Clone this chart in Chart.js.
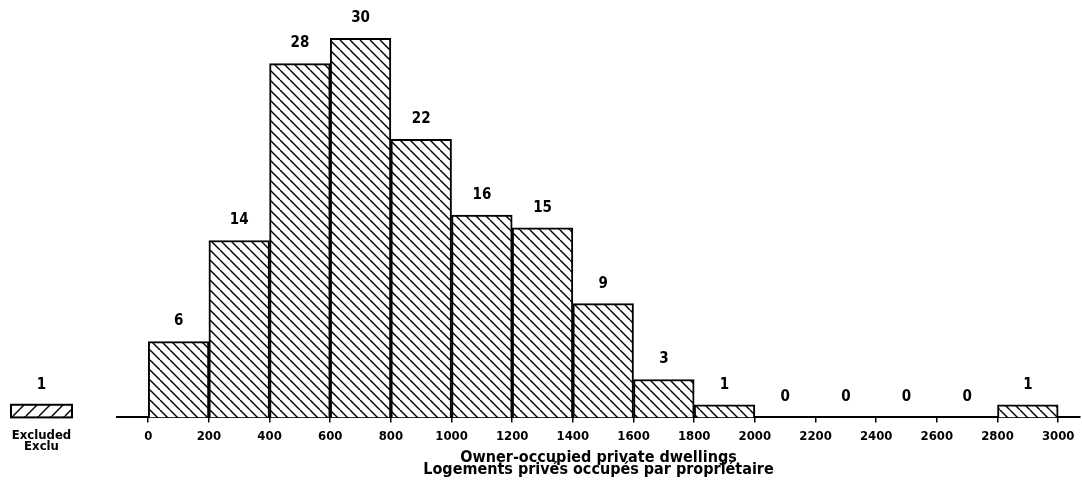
<!DOCTYPE html>
<html>
<head>
<meta charset="utf-8">
<script src="https://cdn.jsdelivr.net/npm/chart.js@4"></script>
<style>
  html, body { margin: 0; padding: 0; background: #fff; }
  #wrap { width: 1082px; height: 485px; }
</style>
</head>
<body>
<div id="wrap"><canvas id="histo" width="1082" height="485"></canvas></div>
<script>
// bins of 200 dwellings, counts
const binStarts = [0, 200, 400, 600, 800, 1000, 1200, 1400, 1600, 1800, 2000, 2200, 2400, 2600, 2800];
const binWidth = 200;
const counts = [6, 14, 28, 30, 22, 16, 15, 9, 3, 1, 0, 0, 0, 0, 1];
const tickValues = [0, 200, 400, 600, 800, 1000, 1200, 1400, 1600, 1800, 2000, 2200, 2400, 2600, 2800, 3000];
const excludedCount = 1;
const excludedLabels = ["Excluded", "Exclu"];
const axisTitle = ["Owner-occupied private dwellings", "Logements privés occupés par propriétaire"];

const FONT = "'DejaVu Sans Condensed', 'DejaVu Sans', sans-serif";

// hatch fill, dir = 1 for "\" and -1 for "/"
function makeHatch(size, dir) {
  const c = document.createElement("canvas");
  c.width = size;
  c.height = size;
  const g = c.getContext("2d");
  g.fillStyle = "#fff";
  g.fillRect(0, 0, size, size);
  g.strokeStyle = "#000";
  g.lineWidth = 1.4;
  for (let k = -size; k <= size; k += size) {
    g.beginPath();
    if (dir > 0) {
      g.moveTo(k, 0);
      g.lineTo(k + size, size);
    } else {
      g.moveTo(k, size);
      g.lineTo(k + size, 0);
    }
    g.stroke();
  }
  const ctx = document.getElementById("histo").getContext("2d");
  return ctx.createPattern(c, "repeat");
}

const backHatch = makeHatch(10, 1);
const fwdHatch = makeHatch(13, -1);

// count above each bar
const valueLabels = {
  id: "valueLabels",
  afterDatasetsDraw(chart) {
    const ctx = chart.ctx;
    const meta = chart.getDatasetMeta(0);
    ctx.save();
    ctx.font = "bold 15px " + FONT;
    ctx.fillStyle = "#000";
    ctx.textAlign = "center";
    ctx.textBaseline = "middle";
    meta.data.forEach((bar, i) => {
      ctx.fillText(String(counts[i]), bar.x, bar.y - 20);
    });
    ctx.restore();
  }
};

// the little "Excluded" box on the far left
const excludedBox = {
  id: "excludedBox",
  afterDraw(chart) {
    const ctx = chart.ctx;
    const y = chart.scales.y;
    const base = y.getPixelForValue(0);
    const top = y.getPixelForValue(excludedCount);
    const left = 11, right = 72;
    ctx.save();
    ctx.fillStyle = fwdHatch;
    ctx.fillRect(left, top, right - left, base - top);
    ctx.strokeStyle = "#000";
    ctx.lineWidth = 2;
    ctx.strokeRect(left, top, right - left, base - top);
    ctx.fillStyle = "#000";
    ctx.textAlign = "center";
    ctx.textBaseline = "middle";
    ctx.font = "bold 15px " + FONT;
    ctx.fillText(String(excludedCount), (left + right) / 2, top - 20);
    ctx.font = "bold 13px " + FONT;
    ctx.fillText(excludedLabels[0], (left + right) / 2, 436);
    ctx.fillText(excludedLabels[1], (left + right) / 2, 447);
    ctx.restore();
  }
};

new Chart(document.getElementById("histo"), {
  type: "bar",
  data: {
    datasets: [{
      data: binStarts.map((s, i) => ({ x: s + binWidth / 2, y: counts[i] })),
      backgroundColor: backHatch,
      borderColor: "#000",
      borderWidth: 2,
      borderSkipped: "bottom",
      barPercentage: 1,
      categoryPercentage: 1
    }]
  },
  options: {
    responsive: false,
    animation: false,
    layout: { padding: { left: 117, right: 2, top: 13, bottom: 9 } },
    plugins: {
      legend: { display: false },
      tooltip: { enabled: false }
    },
    scales: {
      x: {
        type: "linear",
        offset: false,
        min: -103,
        max: 3072,
        afterBuildTicks(scale) {
          scale.ticks = tickValues.map(v => ({ value: v }));
        },
        grid: {
          display: true,
          offset: false,
          drawOnChartArea: false,
          drawTicks: true,
          tickLength: 5,
          color: "#000",
          lineWidth: 1.5
        },
        border: { display: true, color: "#000", width: 2 },
        ticks: {
          color: "#000",
          font: { family: FONT, size: 13, weight: "bold" },
          padding: 6,
          maxRotation: 0,
          autoSkip: false,
          callback: v => String(v)
        },
        title: {
          display: true,
          text: axisTitle,
          color: "#000",
          font: { family: FONT, size: 16, weight: "bold", lineHeight: 0.75 },
          padding: { top: 2, bottom: 0 }
        }
      },
      y: {
        display: false,
        min: 0,
        max: 32
      }
    }
  },
  plugins: [valueLabels, excludedBox]
});
</script>
</body>
</html>
